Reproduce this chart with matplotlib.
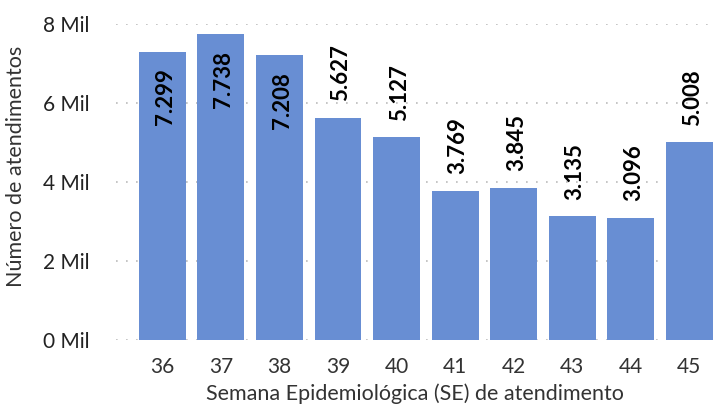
import matplotlib.pyplot as plt
import numpy as np

weeks = ["36", "37", "38", "39", "40", "41", "42", "43", "44", "45"]
counts = [7299, 7738, 7208, 5627, 5127, 3769, 3845, 3135, 3096, 5008]
value_labels = ["7.299", "7.738", "7.208", "5.627", "5.127", "3.769", "3.845", "3.135", "3.096", "5.008"]
yticks = [0, 2000, 4000, 6000, 8000]
ytick_labels = ["0 Mil", "2 Mil", "4 Mil", "6 Mil", "8 Mil"]

plt.rcParams['font.family'] = ['Lato', 'DejaVu Sans']

fig = plt.figure(figsize=(7.18, 4.04), dpi=100)
ax = fig.add_axes([116 / 718, 1 - 340 / 404, 598 / 718, 316 / 404])

x = np.arange(len(weeks))
ax.bar(x, counts, width=0.8, color="#688ED3", zorder=2)

for xi, v, lab in zip(x, counts, value_labels):
    if v > 7000:
        # tall bars: label inside near the top
        ax.annotate(lab, (xi, v), xytext=(2, -12), textcoords="offset points",
                    rotation=90, ha="center", va="top", fontsize=16,
                    fontweight="bold", color="black")
    else:
        ax.annotate(lab, (xi, v), xytext=(2, 12), textcoords="offset points",
                    rotation=90, ha="center", va="bottom", fontsize=16,
                    fontweight="bold", color="black")

ax.set_xlim(-0.79, 9.42)
ax.set_ylim(0, 8000)
ax.set_xticks(x)
ax.set_xticklabels(weeks, fontsize=15, color="#333333")
ax.set_yticks(yticks)
ax.set_yticklabels(ytick_labels, fontsize=15, color="#222222")
ax.tick_params(length=0)
ax.tick_params(axis="x", pad=12)
ax.tick_params(axis="y", pad=19)

ax.grid(axis="y", linestyle=(0, (1, 5)), color="#bbbbbb", linewidth=1.2, zorder=0)
for s in ax.spines.values():
    s.set_visible(False)

ax.set_xlabel("Semana Epidemiológica (SE) de atendimento", fontsize=15.5, color="#333333")
ax.xaxis.set_label_coords(0.5, -0.136)
ax.set_ylabel("Número de atendimentos", fontsize=15.5, color="#333333")
ax.yaxis.set_label_coords(-0.15, 0.55)

plt.savefig("out.png", dpi=100)
